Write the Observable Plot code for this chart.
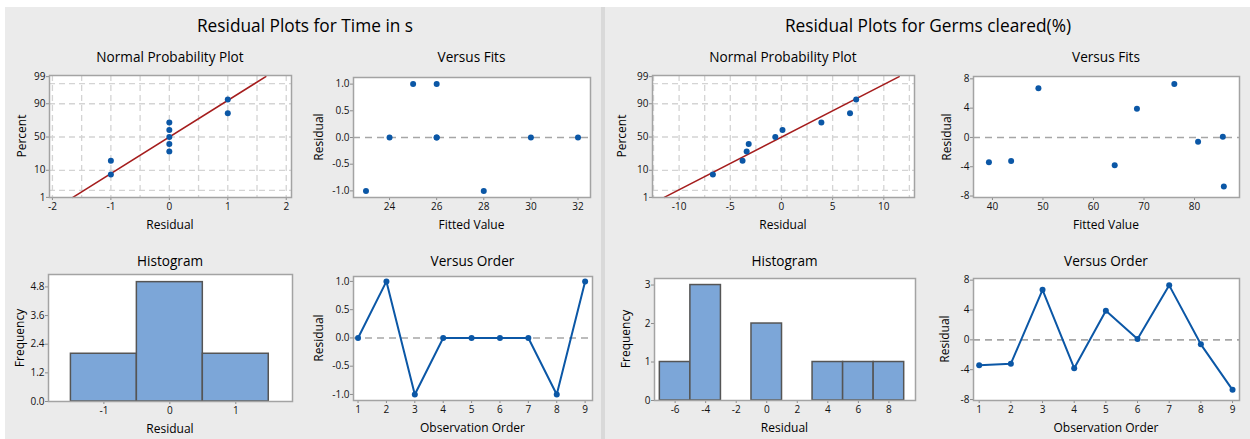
<!DOCTYPE html>
<html><head><meta charset="utf-8">
<script src="https://cdn.jsdelivr.net/npm/d3@7"></script>
<script src="https://cdn.jsdelivr.net/npm/@observablehq/plot@0.6"></script>
<style>
html,body{margin:0;padding:0;background:#fff;}
#root{position:relative;width:1250px;height:439px;overflow:hidden;background:#fff;font-family:'Open Sans',sans-serif;color:#000;}
.panel{position:absolute;background:#ebebeb;}
.t{position:absolute;white-space:nowrap;transform:translate(-50%,-50%);line-height:1;}
.r{transform:translate(-50%,-50%) rotate(-90deg);}
svg{position:absolute;overflow:visible;}
</style></head>
<body><div id="root"></div>
<script>
// ---------- data ----------
const titles = ["Residual Plots for Time in s", "Residual Plots for Germs cleared(%)"];
const subTitles = ["Normal Probability Plot", "Versus Fits", "Histogram", "Versus Order"];
const observation = [1, 2, 3, 4, 5, 6, 7, 8, 9];
// Time in s
const residTime = [0, 1, -1, 0, 0, 0, 0, -1, 1];
const fitsTime = [24, 25, 23, 26, 30, 32, 26, 28, 26];
// Germs cleared(%)
const residGerms = [-3.4, -3.2, 6.7, -3.8, 3.9, 0.1, 7.3, -0.6, -6.7];
const fitsGerms = [39.3, 43.7, 49.1, 64.2, 68.6, 85.6, 76.0, 80.7, 85.8];
// normal probability plot plotting positions (percent) for sorted residuals
const nppPercent = [7.4, 18.1, 28.7, 39.4, 50, 60.6, 71.3, 81.9, 92.6];
const percentTicks = [1, 10, 50, 90, 99];
const percentGrid = [2, 10, 50, 90, 98];
// fitted normal lines: residual at 1% and 99%
const fitLineTime = [-1.65, 1.65];
const fitLineGerms = [-11.45, 11.5];
const fitLinePct = [1, 99];
// histogram bin edges
const binsTime = [-1.5, -0.5, 0.5, 1.5];
const binsGerms = [-7, -5, -3, -1, 1, 3, 5, 7, 9];

// ---------- helpers ----------
function probit(p){
  const a=[-3.969683028665376e+01,2.209460984245205e+02,-2.759285104469687e+02,1.383577518672690e+02,-3.066479806614716e+01,2.506628277459239e+00];
  const b=[-5.447609879822406e+01,1.615858368580409e+02,-1.556989798598866e+02,6.680131188771972e+01,-1.328068155288572e+01];
  const c=[-7.784894002430293e-03,-3.223964580411365e-01,-2.400758277161838e+00,-2.549732539343734e+00,4.374664141464968e+00,2.938163982698783e+00];
  const d=[7.784695709041462e-03,3.224671290700398e-01,2.445134137142996e+00,3.754408661907416e+00];
  const pl=0.02425;
  let q,r;
  if(p<pl){q=Math.sqrt(-2*Math.log(p));return (((((c[0]*q+c[1])*q+c[2])*q+c[3])*q+c[4])*q+c[5])/((((d[0]*q+d[1])*q+d[2])*q+d[3])*q+1);}
  if(p>1-pl){q=Math.sqrt(-2*Math.log(1-p));return -(((((c[0]*q+c[1])*q+c[2])*q+c[3])*q+c[4])*q+c[5])/((((d[0]*q+d[1])*q+d[2])*q+d[3])*q+1);}
  q=p-0.5;r=q*q;
  return (((((a[0]*r+a[1])*r+a[2])*r+a[3])*r+a[4])*r+a[5])*q/(((((b[0]*r+b[1])*r+b[2])*r+b[3])*r+b[4])*r+1);
}
const root = document.getElementById("root");
function text(x, y, s, size, rot, weight){
  const d = document.createElement("div");
  d.className = "t" + (rot ? " r" : "");
  d.style.left = x + "px"; d.style.top = y + "px";
  d.style.fontSize = size + "px";
  if (weight) d.style.fontWeight = weight;
  d.textContent = s;
  root.appendChild(d);
}
function panel(x, y, w, h, c){
  const d = document.createElement("div");
  d.className = "panel";
  Object.assign(d.style, {left:x+"px", top:y+"px", width:w+"px", height:h+"px"});
  if (c) d.style.background = c;
  root.appendChild(d);
}
const BLUE = "#0b57a6", RED = "#a51d1d", FRAME = "#a3a3a3", TICK = "#8c8c8c", TXT = "#111";
const mL = 40, mR = 10, mT = 8, mB = 24;
const fmt1 = d => d.toFixed(1);
const fmt0 = d => String(d);

function subplot(f, cfg){
  const fw = f[1]-f[0], fh = f[3]-f[2];
  const svg = Plot.plot({
    width: fw + mL + mR, height: fh + mT + mB,
    marginLeft: mL, marginRight: mR, marginTop: mT, marginBottom: mB,
    style: {background: "transparent", fontFamily: "'Open Sans',sans-serif", fontSize: "10px", color: TXT, overflow: "visible"},
    x: {domain: cfg.xDomain},
    y: {domain: cfg.yDomain},
    marks: [
      Plot.frame({fill: "white", stroke: null}),
      ...(cfg.under || []),
      Plot.axisX({ticks: cfg.xTicks, tickFormat: cfg.xFormat || fmt0, tickSize: 3, tickPadding: 2, label: null, stroke: TICK, fill: TXT}),
      Plot.axisY({ticks: cfg.yTicks, tickFormat: cfg.yFormat || fmt0, tickSize: 3, tickPadding: 1, label: null, stroke: TICK, fill: TXT}),
      ...cfg.marks,
      Plot.frame({stroke: FRAME, strokeWidth: 1.5})
    ]
  });
  svg.style.left = (f[0] - mL) + "px";
  svg.style.top = (f[2] - mT) + "px";
  root.appendChild(svg);
  const cx = (f[0]+f[1])/2, cy = (f[2]+f[3])/2;
  text(cx, cfg.titleY, cfg.title, 13.6);
  text(cx, f[3] + 27.5, cfg.xLabel, 12);
  text(cfg.yLabelX, cy, cfg.yLabel, 12, true);
}

// ---------- layout ----------
panel(5, 7, 1245, 432);
panel(601, 7, 4, 432, "#d9d9d9");
text(305, 26, titles[0], 17.3);
text(928, 26, titles[1], 17.3);

function npp(resid, xDomain, xTicks, gridX, fitLine){
  const sorted = resid.slice().sort((a,b)=>a-b);
  const pts = sorted.map((r,i)=>({x:r, z:probit(nppPercent[i]/100)}));
  const line = fitLine.map((x,i)=>({x, z:probit(fitLinePct[i]/100)}));
  const zTicks = percentTicks.map(p=>probit(p/100));
  const zMap = new Map(zTicks.map((z,i)=>[z, percentTicks[i]]));
  return {
    xDomain, yDomain: [-2.33, 2.37], xTicks, yTicks: zTicks, yFormat: z => String(zMap.get(z)),
    under: [
      Plot.gridX({ticks: gridX, stroke: "#d4d4d4", strokeOpacity: 1, strokeWidth: 1.3, strokeDasharray: "6,4"}),
      Plot.gridY({ticks: percentGrid.map(p=>probit(p/100)), stroke: "#d4d4d4", strokeOpacity: 1, strokeWidth: 1.3, strokeDasharray: "6,4"})
    ],
    marks: [
      Plot.line(line, {x:"x", y:"z", stroke: RED, strokeWidth: 1.6}),
      Plot.dot(pts, {x:"x", y:"z", r: 3, fill: BLUE, stroke: null})
    ],
    title: subTitles[0], xLabel: "Residual", yLabel: "Percent"
  };
}
function vfits(fits, resid, xDomain, yDomain, xTicks, yTicks, yFormat){
  const pts = fits.map((f,i)=>({f, r:resid[i]}));
  return {
    xDomain, yDomain, xTicks, yTicks, yFormat,
    marks: [
      Plot.ruleY([0], {stroke: "#a6a6a6", strokeWidth: 1.6, strokeDasharray: "7,5"}),
      Plot.dot(pts, {x:"f", y:"r", r: 3, fill: BLUE, stroke: null})
    ],
    title: subTitles[1], xLabel: "Fitted Value", yLabel: "Residual"
  };
}
function hist(resid, bins, xDomain, yDomain, xTicks, yTicks, yFormat){
  return {
    xDomain, yDomain, xTicks, yTicks, yFormat,
    marks: [
      Plot.rectY(resid, Plot.binX({y: "count"}, {x: d=>d, thresholds: bins, fill: "#7ca6d8", stroke: "#555", strokeWidth: 1.5, inset: 0}))
    ],
    title: subTitles[2], xLabel: "Residual", yLabel: "Frequency"
  };
}
function vorder(resid, xDomain, yDomain, yTicks, yFormat){
  const pts = resid.map((r,i)=>({o: observation[i], r}));
  return {
    xDomain, yDomain, xTicks: observation, yTicks, yFormat,
    marks: [
      Plot.ruleY([0], {stroke: "#a6a6a6", strokeWidth: 1.6, strokeDasharray: "7,5"}),
      Plot.line(pts, {x:"o", y:"r", stroke: BLUE, strokeWidth: 2}),
      Plot.dot(pts, {x:"o", y:"r", r: 3, fill: BLUE, stroke: null})
    ],
    title: subTitles[3], xLabel: "Observation Order", yLabel: "Residual"
  };
}

// Time in s
subplot([49, 291, 75, 197], {...npp(residTime, [-2.05, 2.09], [-2,-1,0,1,2], d3.range(-2, 2.01, 0.5), fitLineTime), titleY: 57, yLabelX: 21.5});
subplot([353, 590, 77, 197], {...vfits(fitsTime, residTime, [22.47, 32.53], [-1.124, 1.124], [24,26,28,30,32], [-1,-0.5,0,0.5,1], fmt1), titleY: 57, yLabelX: 318.5});
subplot([48, 292, 274, 401], {...hist(residTime, binsTime, [-1.84, 1.86], [0, 5.32], [-1,0,1], [0,1.2,2.4,3.6,4.8], fmt1), titleY: 261, yLabelX: 20});
subplot([353, 592, 276, 400], {...vorder(residTime, [0.84, 9.26], [-1.107, 1.087], [-1,-0.5,0,0.5,1], fmt1), titleY: 260.5, yLabelX: 318.5});
// Germs cleared(%)
subplot([652, 914, 75, 197], {...npp(residGerms, [-12.6, 13.0], [-10,-5,0,5,10], d3.range(-12.5, 12.51, 2.5), fitLineGerms), titleY: 57, yLabelX: 621.5});
subplot([973, 1239, 76, 197], {...vfits(fitsGerms, residGerms, [36.25, 88.9], [-8.2, 8.32], [40,50,60,70,80], [-8,-4,0,4,8], fmt0), titleY: 57, yLabelX: 946.5});
subplot([654, 915, 278, 400], {...hist(residGerms, binsGerms, [-7.35, 9.74], [0, 3.17], [-6,-4,-2,0,2,4,6,8], [0,1,2,3], fmt0), titleY: 261, yLabelX: 626});
subplot([973, 1239, 278, 400], {...vorder(residGerms, [0.82, 9.22], [-8.13, 8.22], [-8,-4,0,4,8], fmt0), titleY: 260.5, yLabelX: 945});
</script></body></html>
